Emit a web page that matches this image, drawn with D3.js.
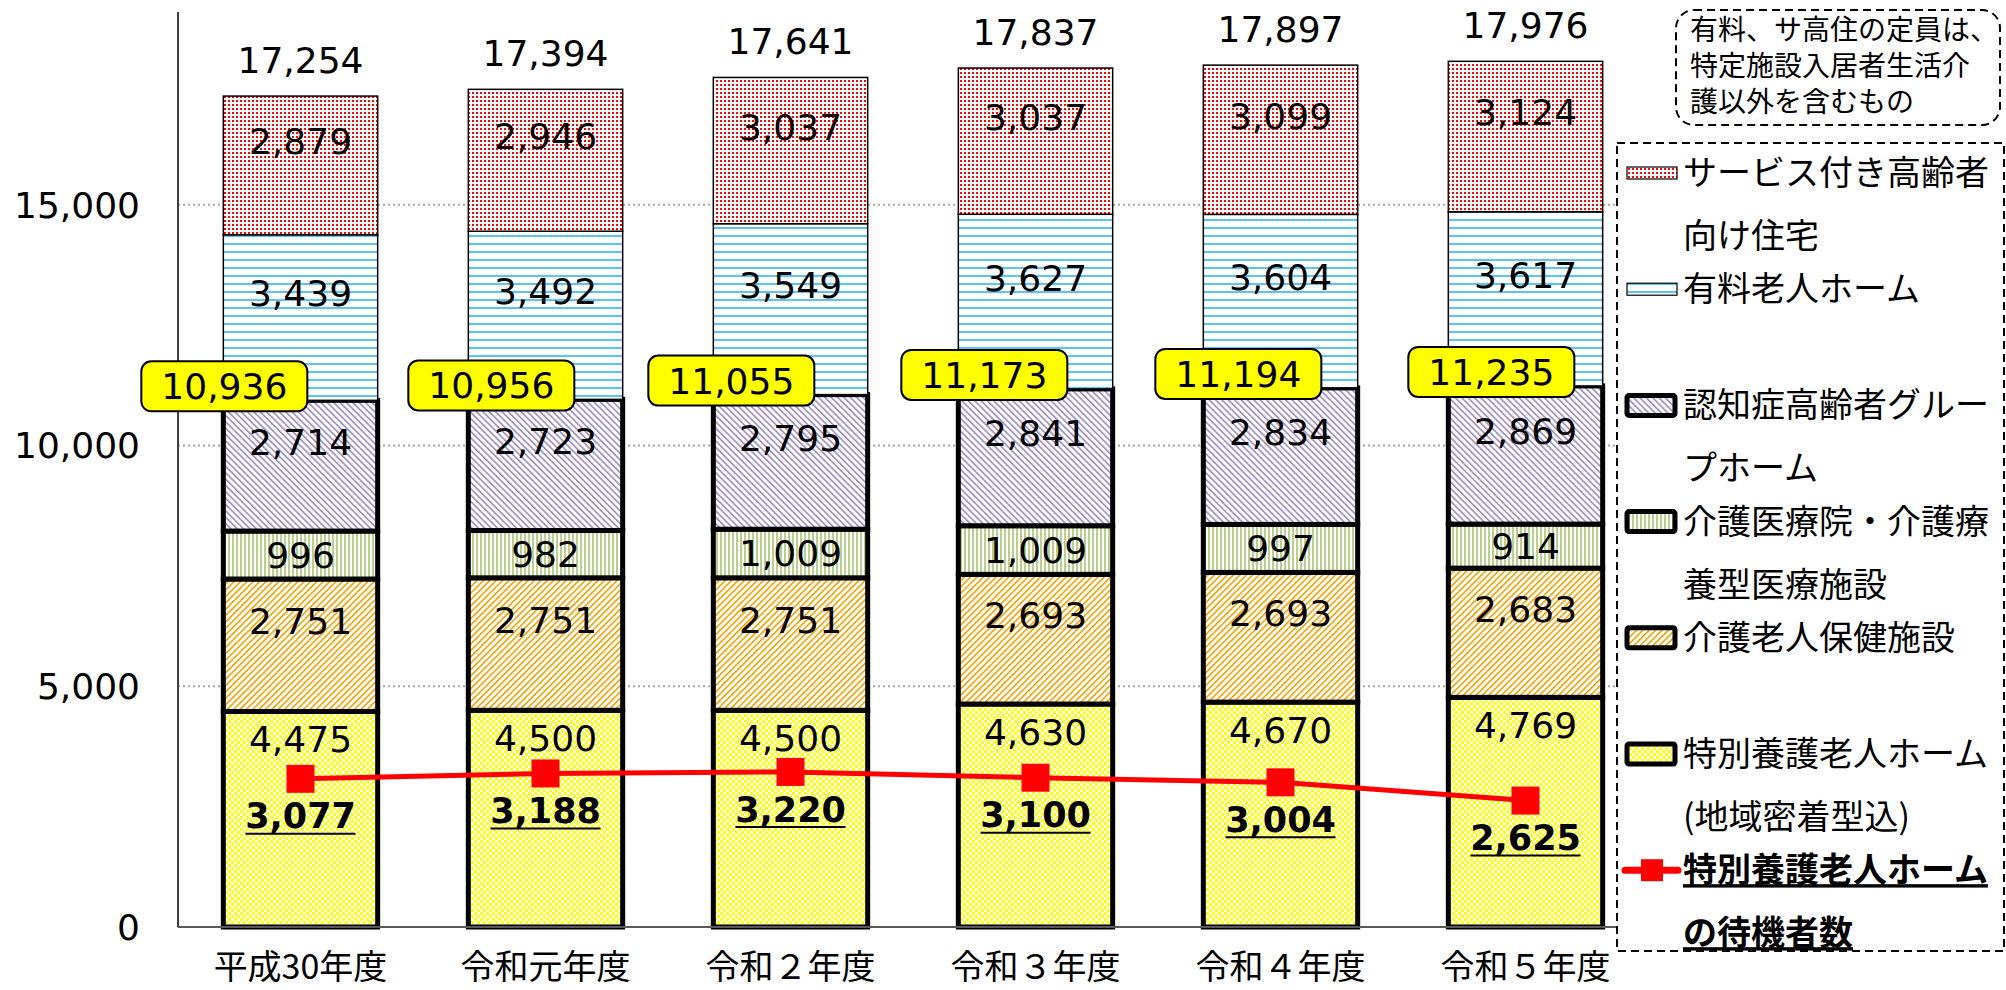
<!DOCTYPE html>
<html>
<head>
<meta charset="utf-8">
<script src="https://cdn.jsdelivr.net/npm/d3@7"></script>
<style>
  html, body { margin: 0; padding: 0; background: #fff; }
  svg { display: block; }
  .num { font-family: "DejaVu Sans", Verdana, sans-serif; }
  .jp { font-family: "Noto Sans CJK JP", sans-serif; }
</style>
</head>
<body>
<div id="chart"></div>
<script>
// categories (fiscal years)
const categories = ['平成30年度', '令和元年度', '令和２年度', '令和３年度', '令和４年度', '令和５年度'];

// stacked series, bottom to top
const tokuyou   = [4475, 4500, 4500, 4630, 4670, 4769];   // 特別養護老人ホーム
const roken     = [2751, 2751, 2751, 2693, 2693, 2683];   // 介護老人保健施設
const iryouin   = [996, 982, 1009, 1009, 997, 914];       // 介護医療院・介護療養型医療施設
const ninchisho = [2714, 2723, 2795, 2841, 2834, 2869];   // 認知症高齢者グループホーム
const yuryo     = [3439, 3492, 3549, 3627, 3604, 3617];   // 有料老人ホーム
const sakouju   = [2879, 2946, 3037, 3037, 3099, 3124];   // サービス付き高齢者向け住宅

// line series
const waiting = [3077, 3188, 3220, 3100, 3004, 2625];     // 特養の待機者数

const yTicks = [0, 5000, 10000, 15000];

// yellow callouts were nudged by hand in the original, px to the right of the bar edge
const calloutDx = [1, 23, 18, 26, 35, 43];

const seriesKeys = ['tokuyou', 'roken', 'iryouin', 'ninchisho', 'yuryo', 'sakouju'];
const seriesVals = { tokuyou, roken, iryouin, ninchisho, yuryo, sakouju };
const fills = {
  tokuyou: 'url(#pCheck)', roken: 'url(#pOrange)', iryouin: 'url(#pGreen)',
  ninchisho: 'url(#pPurple)', yuryo: 'url(#pBlue)', sakouju: 'url(#pDots)'
};
const thick = { tokuyou: true, roken: true, iryouin: true, ninchisho: true, yuryo: false, sakouju: false };

const legendItems = [
  { key: 'sakouju', lines: ['サービス付き高齢者', '向け住宅'] },
  { key: 'yuryo', lines: ['有料老人ホーム'] },
  { key: 'ninchisho', lines: ['認知症高齢者グルー', 'プホーム'] },
  { key: 'iryouin', lines: ['介護医療院・介護療', '養型医療施設'] },
  { key: 'roken', lines: ['介護老人保健施設'] },
  { key: 'tokuyou', lines: ['特別養護老人ホーム', '(地域密着型込)'] },
  { key: 'waiting', lines: ['特別養護老人ホーム', 'の待機者数'] }
];
const noteLines = ['有料、サ高住の定員は、', '特定施設入居者生活介', '護以外を含むもの'];

const W = 2006, H = 990;
const plot = { left: 178, right: 1648, top: 12, bottom: 927 };

const svg = d3.select('#chart').append('svg')
  .attr('width', W).attr('height', H);

// patterns
const defs = svg.append('defs');
function pat(id, w, h, tr) {
  const p = defs.append('pattern').attr('id', id)
    .attr('patternUnits', 'userSpaceOnUse').attr('width', w).attr('height', h);
  if (tr) p.attr('patternTransform', tr);
  p.append('rect').attr('width', w).attr('height', h).attr('fill', '#fff');
  return p;
}
pat('pDots', 4, 4).append('rect').attr('width', 2).attr('height', 2).attr('fill', '#ff0000');
pat('pBlue', 8, 8).append('rect').attr('y', 3).attr('width', 8).attr('height', 2).attr('fill', '#5bc4f2');
pat('pPurple', 4.5, 4.5, 'rotate(-45)').append('rect').attr('width', 1.6).attr('height', 4.5).attr('fill', '#9b8ac4');
pat('pGreen', 4, 4).append('rect').attr('width', 2).attr('height', 4).attr('fill', '#b9d08c');
pat('pOrange', 4.5, 4.5, 'rotate(45)').append('rect').attr('width', 1.6).attr('height', 4.5).attr('fill', '#f5a000');
const ck = pat('pCheck', 6, 6);
ck.append('rect').attr('width', 3).attr('height', 3).attr('fill', '#ffff00');
ck.append('rect').attr('x', 3).attr('y', 3).attr('width', 3).attr('height', 3).attr('fill', '#ffff00');

// scales
const x = d3.scaleBand().domain(categories).range([plot.left, plot.right])
  .paddingInner(0.37).paddingOuter(0.185);
const y = d3.scaleLinear().domain([0, 19000]).range([plot.bottom, plot.top]);

// grid lines
svg.append('g').selectAll('line')
  .data(yTicks.filter(d => d > 0))
  .join('line')
  .attr('x1', plot.left).attr('x2', plot.right)
  .attr('y1', d => y(d)).attr('y2', d => y(d))
  .attr('stroke', '#a6a6a6').attr('stroke-width', 2).attr('stroke-dasharray', '2,3');

// y axis labels
svg.append('g').selectAll('text')
  .data(yTicks).join('text')
  .attr('class', 'num')
  .attr('x', 140).attr('y', d => y(d)).attr('dy', '0.36em')
  .attr('text-anchor', 'end').attr('font-size', 36).attr('fill', '#000')
  .text(d => d3.format(',')(d));

// stack
const table = categories.map((c, i) => {
  const row = { cat: c };
  seriesKeys.forEach(k => row[k] = seriesVals[k][i]);
  return row;
});
const stacked = d3.stack().keys(seriesKeys)(table);

const bars = svg.append('g');
stacked.forEach(layer => {
  const k = layer.key;
  bars.append('g').selectAll('rect')
    .data(layer).join('rect')
    .attr('x', d => x(d.data.cat))
    .attr('width', x.bandwidth())
    .attr('y', d => y(d[1]))
    .attr('height', d => y(d[0]) - y(d[1]))
    .attr('fill', fills[k])
    .attr('stroke', '#000')
    .attr('stroke-width', thick[k] ? 5 : 1.5);
});

// axes lines
svg.append('line').attr('x1', plot.left).attr('x2', plot.right)
  .attr('y1', plot.bottom).attr('y2', plot.bottom)
  .attr('stroke', '#595959').attr('stroke-width', 2);
svg.append('line').attr('x1', plot.left).attr('x2', plot.left)
  .attr('y1', plot.top).attr('y2', plot.bottom)
  .attr('stroke', '#404040').attr('stroke-width', 2);

// segment labels
stacked.forEach(layer => {
  svg.append('g').selectAll('text')
    .data(layer).join('text')
    .attr('class', 'num')
    .attr('x', d => x(d.data.cat) + x.bandwidth() / 2)
    .attr('y', d => {
      const y1 = y(d[1]), y0 = y(d[0]);
      if (layer.key === 'tokuyou') return y1 + 28;
      const h = y0 - y1;
      return (y1 + y0) / 2 - (h > 80 ? 24 : 0);
    })
    .attr('dy', '0.36em')
    .attr('text-anchor', 'middle').attr('font-size', 36).attr('fill', '#000')
    .text(d => d3.format(',')(d.data[layer.key]));
});

// totals
const topLayer = stacked[stacked.length - 1];
svg.append('g').selectAll('text')
  .data(topLayer).join('text')
  .attr('class', 'num')
  .attr('x', d => x(d.data.cat) + x.bandwidth() / 2)
  .attr('y', d => y(d[1]) - 23)
  .attr('text-anchor', 'middle').attr('font-size', 36).attr('fill', '#000')
  .text(d => d3.format(',')(d[1]));

// line series
const cx = c => x(c) + x.bandwidth() / 2;
const lineData = categories.map((c, i) => ({ cat: c, v: waiting[i] }));
svg.append('path').datum(lineData)
  .attr('fill', 'none').attr('stroke', '#ff0000').attr('stroke-width', 5)
  .attr('d', d3.line().x(d => cx(d.cat)).y(d => y(d.v)));
svg.append('g').selectAll('rect')
  .data(lineData).join('rect')
  .attr('x', d => cx(d.cat) - 14).attr('y', d => y(d.v) - 14)
  .attr('width', 28).attr('height', 28).attr('fill', '#ff0000');

const wl = svg.append('g').selectAll('g').data(lineData).join('g');
wl.append('text')
  .attr('class', 'num')
  .attr('x', d => cx(d.cat)).attr('y', d => y(d.v) + 37).attr('dy', '0.36em')
  .attr('text-anchor', 'middle').attr('font-size', 35).attr('font-weight', 'bold')
  .text(d => d3.format(',')(d.v));
wl.append('line')
  .attr('x1', d => cx(d.cat) - 55).attr('x2', d => cx(d.cat) + 55)
  .attr('y1', d => y(d.v) + 55).attr('y2', d => y(d.v) + 55)
  .attr('stroke', '#000').attr('stroke-width', 2);

// callouts for 4-layer subtotal
const sub = stacked[3];
const co = svg.append('g').selectAll('g').data(sub).join('g')
  .attr('transform', (d, i) => `translate(${x(d.data.cat) + calloutDx[i]},${y(d[1]) - 14})`);
co.append('rect')
  .attr('x', -83).attr('y', -25).attr('width', 166).attr('height', 50)
  .attr('rx', 10).attr('fill', '#ffff00').attr('stroke', '#000').attr('stroke-width', 2);
co.append('text')
  .attr('class', 'num').attr('text-anchor', 'middle').attr('dy', '0.36em')
  .attr('font-size', 36)
  .text(d => d3.format(',')(d[1]));

// category labels
svg.append('g').selectAll('text')
  .data(categories).join('text')
  .attr('class', 'jp')
  .attr('x', d => cx(d)).attr('y', 979)
  .attr('text-anchor', 'middle').attr('font-size', 34)
  .text(d => d);

// legend
const lg = { x: 1617, y: 143, w: 387, h: 808 };
defs.append('clipPath').attr('id', 'lgClip')
  .append('rect').attr('x', lg.x).attr('y', lg.y).attr('width', lg.w - 2).attr('height', lg.h);
svg.append('rect')
  .attr('x', lg.x).attr('y', lg.y).attr('width', lg.w).attr('height', lg.h)
  .attr('fill', '#fff').attr('stroke', '#000').attr('stroke-width', 2)
  .attr('stroke-dasharray', '8,5');
const lgG = svg.append('g').attr('clip-path', 'url(#lgClip)');
legendItems.forEach((it, i) => {
  const cy = 173 + i * 116.2;
  if (it.key === 'waiting') {
    lgG.append('line').attr('x1', 1625).attr('x2', 1678).attr('y1', cy).attr('y2', cy)
      .attr('stroke', '#ff0000').attr('stroke-width', 7).attr('stroke-linecap', 'round');
    lgG.append('rect').attr('x', 1641).attr('y', cy - 11).attr('width', 22).attr('height', 22)
      .attr('fill', '#ff0000');
  } else {
    const tk = thick[it.key];
    lgG.append('rect')
      .attr('x', 1627).attr('y', cy - (tk ? 10 : 6))
      .attr('width', tk ? 48 : 50).attr('height', tk ? 20 : 12)
      .attr('rx', tk ? 2 : 0)
      .attr('fill', fills[it.key]).attr('stroke', '#000').attr('stroke-width', tk ? 5 : 1.2);
  }
  it.lines.forEach((ln, j) => {
    const t = lgG.append('text').attr('class', 'jp')
      .attr('x', 1683).attr('y', cy + 12 + j * 63)
      .attr('font-size', 34).attr('fill', '#000')
      .text(ln);
    if (it.key === 'waiting') {
      t.attr('font-weight', 'bold').attr('text-decoration', 'underline');
    }
  });
});

// note box
svg.append('rect')
  .attr('x', 1676).attr('y', 10).attr('width', 324).attr('height', 115)
  .attr('rx', 18).attr('fill', '#fff').attr('stroke', '#000').attr('stroke-width', 2)
  .attr('stroke-dasharray', '8,5');
svg.append('g').selectAll('text')
  .data(noteLines).join('text')
  .attr('class', 'jp')
  .attr('x', 1690).attr('y', (d, i) => 40 + i * 36)
  .attr('font-size', 28).attr('fill', '#000')
  .text(d => d);
</script>
</body>
</html>
